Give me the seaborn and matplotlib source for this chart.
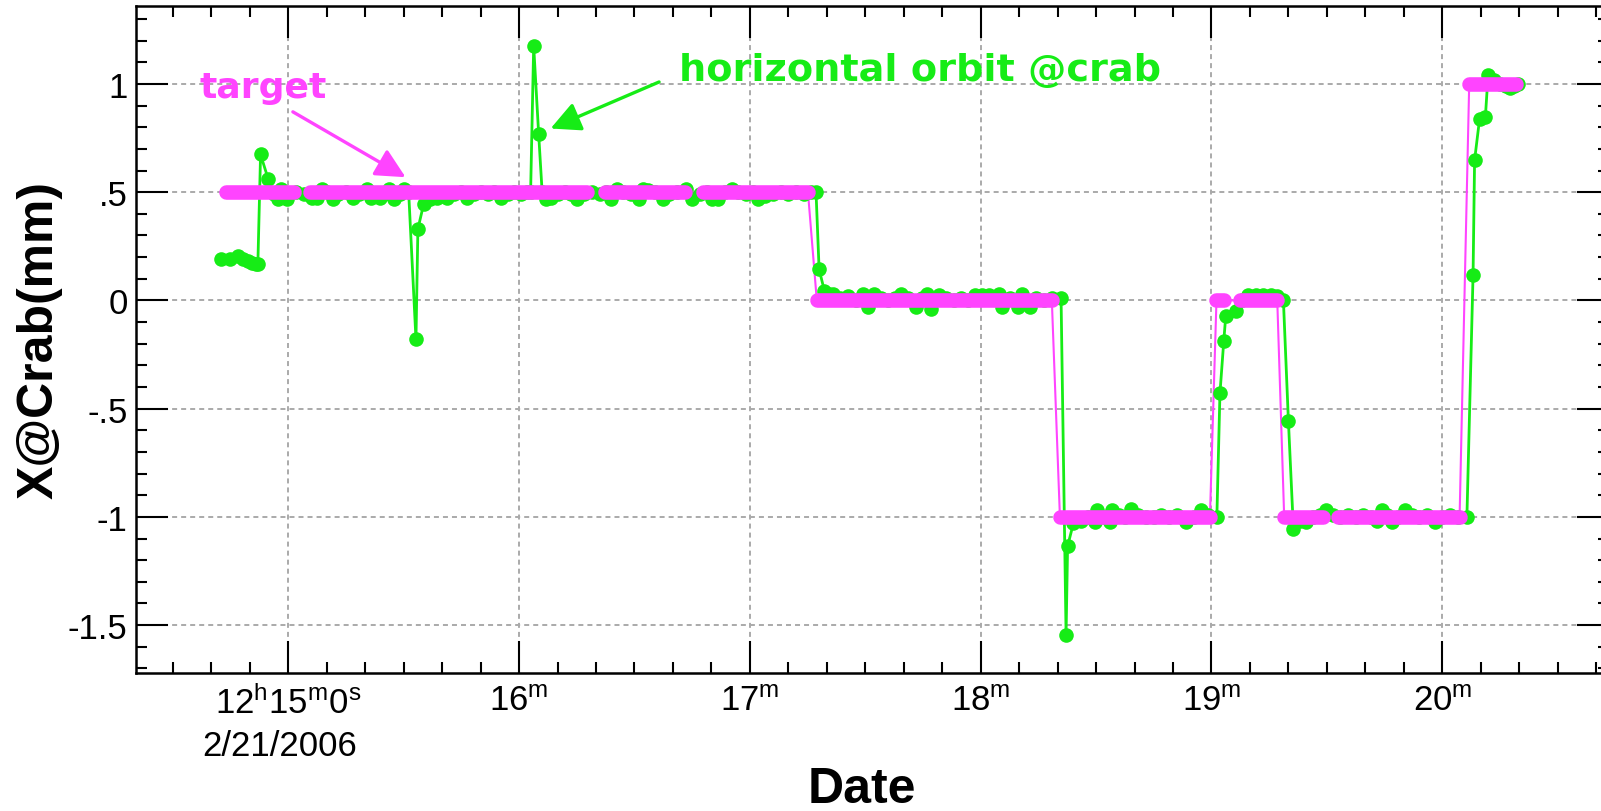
import pandas as pd
import seaborn as sns
import matplotlib.pyplot as plt
import matplotlib.dates as mdates
from matplotlib.ticker import FuncFormatter, MultipleLocator

GREEN = "#16ec16"
MAGENTA = "#ff44ff"

t0 = pd.Timestamp("2006-02-21 12:15:00")

# measured horizontal orbit @crab, seconds after 12:15:00
orbit_sec = [
    -17.4, -15.2, -13.0, -11.8, -10.4, -9.4, -8.3, -7.9,
    -7.2, -5.2, -3.7, -2.7, -1.9, -0.4,
    0, 2, 4, 6.2, 7.5, 8.7, 10, 11.7, 13, 15, 16.9, 18.5, 20.4, 21.5, 23.8, 25, 26.1, 27.4, 29, 30, 31.3,
    33.2, 33.7, 35.2, 36.8,
    38.7, 40, 41.3, 43, 44.8, 46.5, 48.3, 50, 51.8, 53.5, 55.2, 57, 58.8, 60.5, 62.0, 63.0,
    63.8, 65.1, 66.0, 66.9,
    68.3, 70, 72, 73.5, 75, 77, 79, 81, 82.5, 84, 85.4, 87, 89, 91.2, 92.3, 93.4, 95.3, 97.3, 99, 101,
    103.3, 105, 107, 108.8, 110.2, 111.7, 113.5, 115.3, 117, 119, 120.7, 122.2, 124, 126, 128, 130,
    132, 134, 136, 137.2,
    138.0, 139.4,
    140.6, 141.6, 143.5, 145.5, 147.5, 149.3, 150.6, 152.2, 154, 156, 157.7, 159.2, 161, 163.1, 164.7,
    166.1, 167.0, 169.1, 171, 173, 175, 176.8, 178.5, 180.3, 182.1, 184.7, 185.5, 187.5, 189.8, 190.7,
    192.8, 194.5, 196.5, 198.5, 200.9,
    202.2, 202.6, 204.1,
    206, 207.8, 209.6, 210.2, 212, 213.5, 214.1, 216, 217.5, 219.1, 221, 223, 225, 227, 229, 231,
    233.5, 235.5, 237.4, 239, 241.4,
    242.2, 243.2, 243.7, 246.5, 247.9, 249.5, 251.5, 253.5, 255.5, 257.0, 258.7,
    260.0, 261.3,
    263.0, 264.5, 266.5, 268.2, 269.7, 271.5, 273.5, 275.5, 277.5, 279.5, 281.5, 283, 284.3, 285.6,
    286.9, 288.5, 290.3, 292, 294, 296, 298.1, 300, 302, 304, 306.4,
    308.0, 308.4, 309.7, 311.2, 311.9, 313.5, 315, 316.5, 317.5, 318.6, 319.6,
]
orbit_mm = [
    0.19, 0.19, 0.205, 0.19, 0.18, 0.175, 0.17, 0.17,
    0.674, 0.56, 0.49, 0.47, 0.515, 0.47,
    0.49, 0.50, 0.49, 0.475, 0.475, 0.515, 0.50, 0.47, 0.49, 0.50, 0.475, 0.49, 0.515, 0.475, 0.475, 0.49,
    0.515, 0.47, 0.49, 0.515, 0.50,
    -0.18, 0.33, 0.445, 0.47,
    0.475, 0.48, 0.475, 0.49, 0.50, 0.475, 0.49, 0.50, 0.49, 0.50, 0.475, 0.49, 0.50, 0.49, 0.50, 0.50,
    1.175, 0.767, 0.50, 0.47,
    0.475, 0.49, 0.50, 0.49, 0.47, 0.49, 0.50, 0.49, 0.50, 0.47, 0.515, 0.50, 0.49, 0.47, 0.515, 0.51,
    0.50, 0.47, 0.49, 0.50, 0.515, 0.47, 0.49, 0.50, 0.47, 0.47, 0.50, 0.515, 0.50, 0.49, 0.50, 0.47,
    0.48, 0.49, 0.50, 0.49, 0.50, 0.49, 0.50, 0.50,
    0.143, 0.043,
    0.03, 0.03, 0.01, 0.02, 0.0, 0.03, -0.03, 0.03, 0.01, 0.0, 0.01, 0.03, 0.01, -0.03, 0.01,
    0.03, -0.04, 0.025, 0.01, 0.0, 0.01, 0.0, 0.025, 0.025, 0.025, 0.03, -0.03, 0.01, -0.03, 0.03,
    -0.03, 0.01, 0.0, 0.01, 0.01,
    -1.545, -1.135, -1.03,
    -1.02, -1.0, -1.025, -0.97, -1.0, -1.025, -0.97, -0.99, -1.0, -0.965, -0.99, -1.0, -1.0, -0.99,
    -1.0, -0.99, -1.025, -1.0, -0.97, -0.99, -1.0,
    -0.43, -0.187, -0.074, -0.051, 0.0, 0.025, 0.025, 0.025, 0.025, 0.02, 0.0,
    -0.557, -1.057,
    -1.02, -1.025, -1.0, -0.99, -0.97, -0.99, -1.0, -0.99, -1.0, -0.99, -1.0, -1.02, -0.97, -0.99,
    -1.025, -1.0, -0.97, -0.99, -1.0, -0.99, -1.025, -1.0, -0.99, -1.0, -1.0,
    0.116, 0.648, 0.839, 0.847, 1.04, 1.02, 1.0, 0.99, 0.98, 0.99, 1.0,
]

# target setting: flat runs (start s, end s, level mm)
target_start = [-16.2, 5.7, 82.4, 107.9, 137.4, 200.6, 241.3, 247.4, 258.9, 272.9, 307.0]
target_end = [1.6, 77.6, 103.2, 135.1, 198.5, 239.6, 243.3, 257.1, 268.9, 304.5, 319.2]
target_mm = [0.5, 0.5, 0.5, 0.5, 0, -1, 0, 0, -1, -1, 1]

orbit = pd.DataFrame({"time": t0 + pd.to_timedelta(orbit_sec, unit="s"), "x": orbit_mm})

rows = []
for i, (a, b, v) in enumerate(zip(target_start, target_end, target_mm)):
    rows.append({"run": i, "sec": a, "x": v})
    rows.append({"run": i, "sec": b, "x": v})
target = pd.DataFrame(rows)
target["time"] = t0 + pd.to_timedelta(target["sec"], unit="s")

sns.set_style("ticks")
plt.rcParams["font.family"] = ["Liberation Sans", "DejaVu Sans"]
plt.rcParams["mathtext.fontset"] = "custom"
plt.rcParams["mathtext.rm"] = "Liberation Sans"
plt.rcParams["mathtext.it"] = "Liberation Sans:italic"
plt.rcParams["mathtext.bf"] = "Liberation Sans:bold"
plt.rcParams["lines.scale_dashes"] = False
for k in ["text.color", "axes.labelcolor", "xtick.color", "ytick.color", "axes.edgecolor"]:
    plt.rcParams[k] = "black"

fig = plt.figure(figsize=(16.01, 8.12), dpi=100)
ax = fig.add_axes([0.0849, 0.170, 0.920, 0.8214])

sns.lineplot(data=orbit, x="time", y="x", estimator=None, sort=False, color=GREEN, lw=2.0,
             marker="o", markersize=10.5, markeredgewidth=0, markeredgecolor=GREEN, ax=ax, zorder=3)
sns.lineplot(data=target, x="time", y="x", estimator=None, sort=False, color=MAGENTA, lw=1.5,
             ax=ax, zorder=2.5)
sns.lineplot(data=target, x="time", y="x", units="run", estimator=None, color=MAGENTA, lw=10.5,
             solid_capstyle="round", ax=ax, zorder=4)

def tnum(s):
    return mdates.date2num(t0 + pd.Timedelta(seconds=s))

ax.set_xlim(tnum(-39.6), tnum(343.3))
ax.set_ylim(-1.721, 1.360)

ax.xaxis.set_major_locator(mdates.MinuteLocator())
ax.xaxis.set_minor_locator(mdates.SecondLocator(bysecond=range(0, 60, 10)))

def xfmt(v, pos):
    d = mdates.num2date(v)
    if d.minute == 15 and d.second == 0:
        return r"$\mathrm{12^{h}15^{m}0^{s}}$"
    return r"$\mathrm{%d^{m}}$" % d.minute

ax.xaxis.set_major_formatter(FuncFormatter(xfmt))
ax.yaxis.set_major_locator(MultipleLocator(0.5))
ax.yaxis.set_minor_locator(MultipleLocator(0.1))
ax.yaxis.set_major_formatter(FuncFormatter(lambda v, p: f"{round(v, 2):g}".replace("0.", ".")))

ax.tick_params(which="both", direction="in", top=True, right=True, width=1.5, color="black",
               labelsize=25)
ax.tick_params(which="major", length=23)
ax.tick_params(which="minor", length=8)
ax.tick_params(axis="x", pad=8)
ax.tick_params(axis="y", pad=6)
for sp in ax.spines.values():
    sp.set_linewidth(1.8)

ax.grid(True, which="major", color="#aaaaaa", linestyle=(0, (3.6, 2.9)), lw=1.4)

ax.set_xlabel("Date", fontsize=36, fontweight="bold")
ax.set_ylabel("X@Crab(mm)", fontsize=36, fontweight="bold")
ax.xaxis.set_label_coords(0.493, -0.174)
ax.xaxis.label.set_verticalalignment("center")
ax.yaxis.set_label_coords(-0.0652, 0.5)
ax.yaxis.label.set_verticalalignment("center")

ax.annotate("2/21/2006", xy=(tnum(0), 0), xycoords=ax.get_xaxis_transform(),
            xytext=(-6, -52), textcoords="offset points", ha="center", va="center", fontsize=25)

# annotations
ax.text(tnum(-23.2), 0.94, "target", color=MAGENTA, fontsize=26, fontweight="bold",
        family="DejaVu Sans", ha="left", va="baseline")
ax.annotate("", xy=(tnum(30.5), 0.569), xytext=(tnum(1.2), 0.871),
            arrowprops=dict(arrowstyle="-|>", color=MAGENTA, lw=2.4, mutation_scale=45,
                            shrinkA=0, shrinkB=0))
ax.text(tnum(101.6), 1.018, "horizontal orbit @crab", color=GREEN, fontsize=27.5,
        fontweight="bold", family="DejaVu Sans", ha="left", va="baseline")
ax.annotate("", xy=(tnum(68.2), 0.794), xytext=(tnum(96.4), 1.009),
            arrowprops=dict(arrowstyle="-|>", color=GREEN, lw=2.4, mutation_scale=45,
                            shrinkA=0, shrinkB=0))

fig.savefig("out.png", dpi=100)
